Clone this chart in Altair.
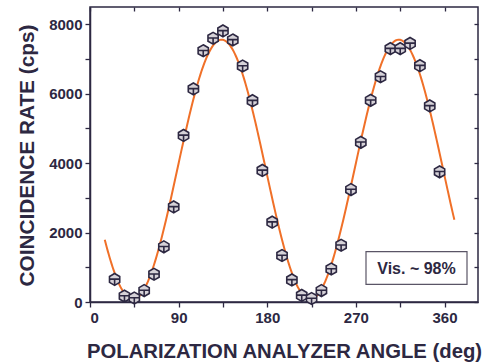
import altair as alt
import numpy as np
import pandas as pd

# Measured coincidence counts vs. analyzer angle
angles = [25, 35, 45, 55, 65, 75, 85, 95, 105, 115, 125, 135, 145, 155, 165, 175, 185,
          195, 205, 215, 225, 235, 245, 255, 265, 275, 285, 295, 305, 315, 325, 335, 345, 355]
rates = [650, 170, 115, 330, 800, 1590, 2740, 4800, 6140, 7240, 7600, 7810, 7550, 6800, 5800, 3790, 2300,
         1340, 635, 190, 100, 330, 950, 1635, 3240, 4600, 5810, 6490, 7300, 7300, 7450, 6810, 5650, 3750]

visibility = 0.98
visibility_label = "Vis. ~ 98%"

# Fit  R = A [1 + V cos(2(θ - θ0))]  with the visibility held at V;
# θ0 by scan, A by least squares for each θ0.
th = np.radians(np.array(angles, dtype=float))
r = np.array(rates, dtype=float)
best = None
for phase_deg in np.arange(90.0, 180.0, 0.1):
    basis = 1 + visibility * np.cos(2 * (th - np.radians(phase_deg)))
    amp = float(basis @ r / (basis @ basis))
    err = float(np.sum((r - amp * basis) ** 2))
    if best is None or err < best[0]:
        best = (err, amp, phase_deg)
_, amp, phase_deg = best

fit_angles = np.arange(15, 370.5, 1.0)
fit_rates = amp * (1 + visibility * np.cos(2 * (np.radians(fit_angles) - np.radians(phase_deg))))

points = pd.DataFrame({"angle": angles, "rate": rates})
curve = pd.DataFrame({"angle": fit_angles, "rate": fit_rates})

INK = "#2d2842"
FONT = "Liberation Sans"

xscale = alt.Scale(domain=[0, 394], nice=False, zero=False)
yscale = alt.Scale(domain=[0, 8500], nice=False)

x_bottom = alt.X(
    "angle:Q", scale=xscale,
    axis=alt.Axis(
        title="POLARIZATION ANALYZER ANGLE (deg)", values=list(range(0, 395, 45)),
        labelExpr="datum.value % 90 == 0 ? datum.label : ''",
        grid=False, tickSize=5, tickColor=INK, domainColor=INK, domainWidth=1.5, tickWidth=1.3,
        labelFont=FONT, labelFontSize=15, labelFontWeight="bold", labelColor=INK, labelPadding=3,
        titleFont=FONT, titleFontSize=20.3, titleFontWeight="bold", titleColor=INK,
        titleBaseline="alphabetic", titleY=55, titleX=194, titleAlign="center",
    ),
)
y_left = alt.Y(
    "rate:Q", scale=yscale,
    axis=alt.Axis(
        title="COINCIDENCE RATE (cps)", values=list(range(0, 8001, 1000)),
        labelExpr="datum.value % 2000 == 0 ? datum.label : ''", format="d",
        grid=False, tickSize=5, tickColor=INK, domainColor=INK, domainWidth=1.5, tickWidth=1.3,
        labelFont=FONT, labelFontSize=15, labelFontWeight="bold", labelColor=INK, labelPadding=3,
        titleFont=FONT, titleFontSize=20.8, titleFontWeight="bold", titleColor=INK,
        titleBaseline="alphabetic", titleAngle=270, titleX=-57, titleY=148, titleAlign="center",
    ),
)

fit_line = alt.Chart(curve).mark_line(color="#f07028", strokeWidth=2).encode(
    x=x_bottom, y=y_left
)

# Hexagonal markers with an inner T stroke
hex_shape = ("M0,-1L0.866,-0.5L0.866,0.5L0,1L-0.866,0.5L-0.866,-0.5Z"
             "M-0.866,-0.05L0.866,-0.05M0,-0.05L0,1")

marks = alt.Chart(points).mark_point(
    shape=hex_shape, size=140, filled=False, fill="#d6d2d8", fillOpacity=1,
    stroke=INK, strokeWidth=1.6, opacity=1,
).encode(
    x=alt.X("angle:Q", scale=xscale,
            axis=alt.Axis(orient="top", title=None, labels=False, domain=False, grid=False,
                          values=list(range(0, 395, 45)), tickSize=4, offset=-4,
                          tickColor=INK, tickWidth=1.3)),
    y=alt.Y("rate:Q", scale=yscale,
            axis=alt.Axis(orient="right", title=None, labels=False, domain=False, grid=False,
                          values=list(range(0, 8001, 1000)), tickSize=4, offset=-4,
                          tickColor=INK, tickWidth=1.3)),
)

box = alt.Chart(pd.DataFrame({"t": [visibility_label]})).mark_rect(
    fill="white", stroke="#5a5566", strokeWidth=1.2
).encode(x=alt.value(276), x2=alt.value(377), y=alt.value(244.7), y2=alt.value(277.3))

box_text = alt.Chart(pd.DataFrame({"t": [visibility_label]})).mark_text(
    font=FONT, fontSize=16, fontWeight="bold", color=INK, align="center", baseline="middle"
).encode(x=alt.value(326.5), y=alt.value(261.5), text="t:N")

chart = (
    alt.layer(fit_line, marks, box, box_text)
    .resolve_axis(x="independent", y="independent")
    .properties(
        width=388, height=295,
        autosize=alt.AutoSizeParams(type="none"),
        padding={"left": 90, "top": 7, "right": 6, "bottom": 62},
        background="white",
    )
    .configure_view(stroke=INK, strokeWidth=1.5)
)

chart.save("out.html", embed_options={"renderer": "svg", "actions": False})
